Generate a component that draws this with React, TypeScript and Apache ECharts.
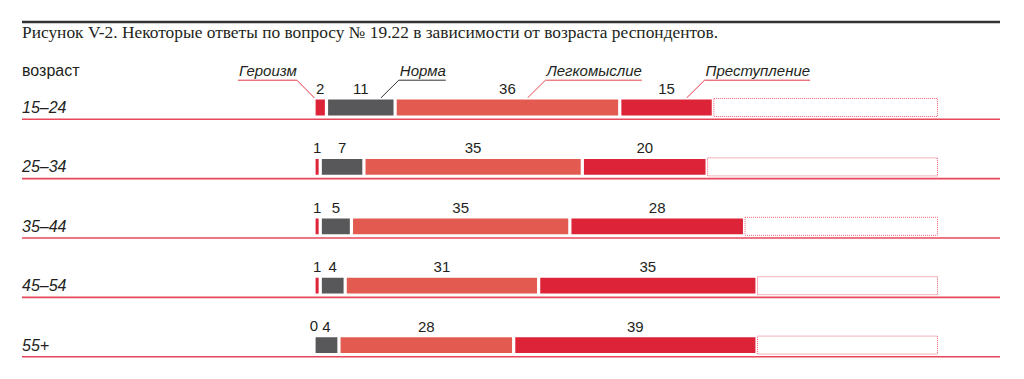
import React, { useEffect, useRef } from 'react';
import * as echarts from 'echarts';

const categories = ['15–24', '25–34', '35–44', '45–54', '55+'];
const heroism = [2, 1, 1, 1, 0];
const norm = [11, 7, 5, 4, 4];
const frivolity = [36, 35, 35, 31, 28];
const crime = [15, 20, 28, 35, 39];
const seriesNames = ['Героизм', 'Норма', 'Легкомыслие', 'Преступление'];
const seriesColors = ['#dc2337', '#58585a', '#e35b50', '#dc2337'];
const leaderColors = ['#e2394b', '#333333', '#e2474f', '#e2394b'];
const titleText = 'Рисунок V-2. Некоторые ответы по вопросу № 19.22 в зависимости от возраста респондентов.';
const axisTitle = 'возраст';
const totalMax = 100;

const BAR_W = 19;
const SANS = '"Liberation Sans", Arial, sans-serif';
const SERIF = '"Liberation Serif", "Times New Roman", serif';

function measure(text: string, font: string): number {
  const c = document.createElement('canvas').getContext('2d');
  if (!c) return text.length * 8;
  c.font = font;
  return c.measureText(text).width;
}

export default function App() {
  const ref = useRef<HTMLDivElement>(null);
  useEffect(() => {
    if (!ref.current) return;
    const chart = echarts.init(ref.current, undefined, { renderer: 'svg' });
    const values = [heroism, norm, frivolity, crime];
    const remainder = categories.map((_, i) => totalMax - heroism[i] - norm[i] - frivolity[i] - crime[i]);

    const barSeries: any[] = values.map((vals, k) => ({
      type: 'bar',
      name: seriesNames[k],
      stack: 'total',
      data: vals,
      barWidth: BAR_W,
      itemStyle: { color: seriesColors[k], borderColor: '#ffffff', borderWidth: 1.6 },
      label: {
        show: true,
        position: 'top',
        distance: 2,
        color: '#231f20',
        fontFamily: SANS,
        fontSize: 15,
      },
    }));

    barSeries.push({
      type: 'bar',
      name: 'rest',
      stack: 'total',
      data: remainder,
      barWidth: BAR_W,
      itemStyle: { color: 'rgba(255,255,255,0)', borderColor: '#ea6575', borderWidth: 1, borderType: 'dotted' },
      label: { show: false },
      silent: true,
    });

    barSeries.push({
      type: 'custom',
      name: 'baseline',
      data: categories.map((_, i) => [0, i]),
      encode: { x: 0, y: 1 },
      silent: true,
      clip: false,
      z: 1,
      renderItem: (params: any, api: any) => {
        const p = api.coord([0, api.value(1)]);
        const y = p[1] + BAR_W / 2 + 2.2;
        return {
          type: 'line',
          shape: { x1: 22, y1: y, x2: api.getWidth() - 24, y2: y },
          style: { stroke: '#e8475a', lineWidth: 1.6 },
        };
      },
    });

    chart.setOption({
      animation: false,
      grid: { left: 314, right: 86, top: 77.8, bottom: 4.2 },
      xAxis: { type: 'value', min: 0, max: totalMax, show: false },
      yAxis: {
        type: 'category',
        inverse: true,
        data: categories,
        axisLine: { show: false },
        axisTick: { show: false },
        splitLine: { show: false },
        axisLabel: {
          align: 'left',
          margin: 292,
          fontFamily: SANS,
          fontStyle: 'italic',
          fontSize: 16,
          color: '#231f20',
          padding: [3, 0, 0, 0],
        },
      },
      series: barSeries,
    });

    // callouts anchored to the first row's segments
    const cum = [0];
    values.forEach((v) => cum.push(cum[cum.length - 1] + v[0]));
    const rowCenter = (chart.convertToPixel({ gridIndex: 0 }, [0, 0]) as number[])[1];
    const barTop = rowCenter - BAR_W / 2;
    const legendFont = `italic 15px ${SANS}`;
    const titleFont = `16.5px ${SERIF}`;
    const titleW = measure(titleText, titleFont);
    const titleScale = titleW > 0 ? 696 / titleW : 1;
    const graphics: any[] = [
      {
        type: 'line',
        shape: { x1: 22, y1: 22, x2: 1000, y2: 22 },
        style: { stroke: '#333333', lineWidth: 2.4 },
      },
      {
        type: 'text',
        x: 22,
        y: 33,
        scaleX: titleScale,
        style: {
          text: titleText,
          font: titleFont,
          fill: '#231f20',
          verticalAlign: 'middle',
          align: 'left',
        },
      },
      {
        type: 'text',
        x: 22,
        y: 70,
        style: {
          text: axisTitle,
          font: `16px ${SANS}`,
          fill: '#231f20',
          verticalAlign: 'middle',
          align: 'left',
        },
      },
    ];
    seriesNames.forEach((name, k) => {
      const x0 = (chart.convertToPixel({ gridIndex: 0 }, [cum[k], 0]) as number[])[0];
      const x1 = (chart.convertToPixel({ gridIndex: 0 }, [cum[k + 1], 0]) as number[])[0];
      const w = measure(name, legendFont);
      const lineY = barTop - 17.8;
      let bx: number, tx: number, ux1: number, ux2: number, textX: number, align: string;
      if (k === 0) {
        bx = x0 + 0.5;
        tx = bx - 17.6;
        ux1 = tx - w - 1;
        ux2 = tx;
        textX = tx;
        align = 'right';
      } else {
        bx = (x0 + x1) / 2 + 20;
        tx = bx + 18;
        ux1 = tx;
        ux2 = tx + w + 1;
        textX = tx + 1;
        align = 'left';
      }
      graphics.push({
        type: 'polyline',
        shape: { points: [[bx, barTop], [tx, lineY], k === 0 ? [ux1, lineY] : [ux2, lineY]] },
        style: { stroke: leaderColors[k], lineWidth: 1, fill: null },
      });
      graphics.push({
        type: 'text',
        x: textX,
        y: lineY - 10,
        style: {
          text: name,
          font: legendFont,
          fill: '#231f20',
          verticalAlign: 'middle',
          align,
        },
      });
    });
    chart.setOption({ graphic: graphics });

    return () => chart.dispose();
  }, []);
  return (
    <div
      ref={ref}
      style={{ position: 'fixed', left: 0, top: 0, width: 1024, height: 379, background: '#ffffff' }}
    />
  );
}
